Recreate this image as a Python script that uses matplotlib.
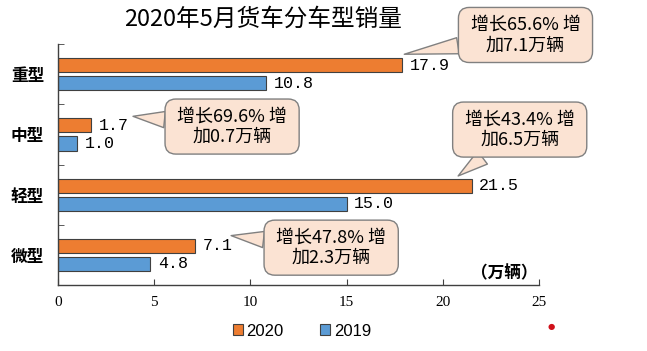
import numpy as np
import matplotlib
matplotlib.use('Agg')
import matplotlib.pyplot as plt

plt.rcParams['font.family'] = ['Noto Sans CJK SC', 'DejaVu Sans']

# ---------------------------
# 数据
# ---------------------------
categories = ['重型', '中型', '轻型', '微型']
sales_2020 = [17.9, 1.7, 21.5, 7.1]
sales_2019 = [10.8, 1.0, 15.0, 4.8]
growth_pct = ['65.6%', '69.6%', '43.4%', '47.8%']
growth_abs = ['7.1', '0.7', '6.5', '2.3']
x_ticks = [0, 5, 10, 15, 20, 25]

# 标注框位置 (数据坐标)
box_xy = [(24.3, -0.65), (9.05, 0.87), (24.0, 0.92), (14.2, 2.88)]
tip_dx = [0.1, 2.2, -0.7, 1.9]
tip_dy = [-0.06, -0.03, -0.04, -0.05]

c2020 = '#ED7D31'
c2019 = '#5B9BD5'
box_fc = '#FBE3D3'

fig = plt.figure(figsize=(6.47, 3.51), dpi=100)
ax = fig.add_axes([0.0896, 0.188, 0.7434, 0.6866])

y = np.arange(len(categories))
h = 0.235
off = 0.15
ax.barh(y - off, sales_2020, height=h, color=c2020, edgecolor='#404040', linewidth=0.8, label='2020')
ax.barh(y + off, sales_2019, height=h, color=c2019, edgecolor='#404040', linewidth=0.8, label='2019')

num_font = dict(family='Liberation Mono', fontsize=12)
for yi, v in zip(y, sales_2020):
    ax.text(v + 0.4, yi - off, f'{v:.1f}', va='center', ha='left', **num_font)
for yi, v in zip(y, sales_2019):
    ax.text(v + 0.4, yi + off, f'{v:.1f}', va='center', ha='left', **num_font)

# 标注
for i in range(len(categories)):
    tip = (sales_2020[i] + tip_dx[i], y[i] - off + tip_dy[i] - 0.12)
    txt = f' 增长{growth_pct[i]} 增 \n加{growth_abs[i]}万辆'
    ax.annotate(txt, xy=tip, xytext=box_xy[i], textcoords='data',
                ha='center', va='center', fontsize=13, linespacing=1.2,
                annotation_clip=False,
                bbox=dict(boxstyle='round,pad=0.45,rounding_size=0.6', fc=box_fc, ec='#808080', lw=1),
                arrowprops=dict(arrowstyle='wedge,tail_width=0.9', fc=box_fc, ec='#808080', lw=1,
                                shrinkA=0, shrinkB=0))

ax.set_xlim(0, 25)
ax.set_ylim(3.5, -0.5)
ax.set_xticks(x_ticks)
ax.set_xticklabels([str(t) for t in x_ticks], family='Liberation Serif', fontsize=11)
ax.set_yticks(y)
ax.set_yticklabels(categories, fontsize=12, fontweight='bold')
ax.set_yticks(np.arange(-0.5, 4, 1), minor=True)
ax.tick_params(axis='y', which='major', length=0, pad=10)
ax.tick_params(axis='y', which='minor', direction='in', length=4, color='#404040')
ax.tick_params(axis='x', direction='in', length=4, pad=8, color='#404040')
for s in ['top', 'right']:
    ax.spines[s].set_visible(False)
for s in ['left', 'bottom']:
    ax.spines[s].set_color('#404040')
    ax.spines[s].set_linewidth(1)

ax.text(0.997, 0.05, '（万辆）', transform=ax.transAxes, ha='right', va='center',
        fontsize=12, fontweight='bold')

fig.text(263 / 647, 1 - 19 / 351, '2020年5月货车分车型销量', ha='center', va='center', fontsize=17)

fig.legend(loc='center', bbox_to_anchor=(302 / 647, 1 - 331 / 351), ncol=2, frameon=False,
           handlelength=0.6, handleheight=0.6, handletextpad=0.2, columnspacing=2.2,
           prop={'family': ['Liberation Sans'], 'size': 12})

fig.text(551 / 647, 1 - 327 / 351, '●', color='#D0101A', fontsize=6, ha='center', va='center',
         family='DejaVu Sans')

fig.savefig('out.png', dpi=100)
